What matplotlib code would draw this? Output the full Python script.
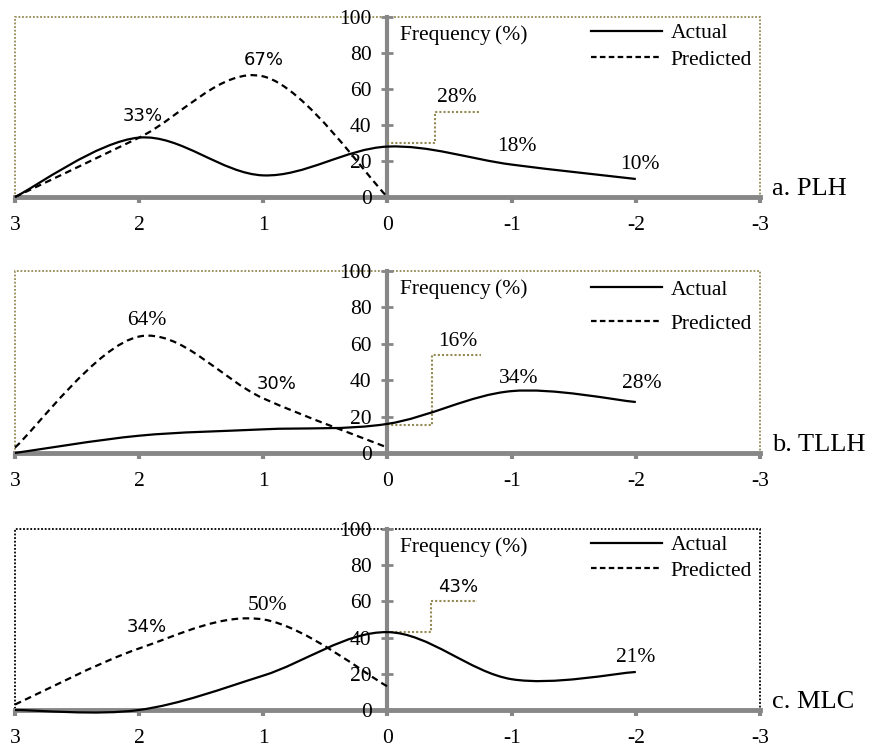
import matplotlib
matplotlib.use("Agg")
import matplotlib.pyplot as plt
from matplotlib.path import Path
from matplotlib.patches import PathPatch, Rectangle
from matplotlib.lines import Line2D
import numpy as np

# ---- data ----
x_actual = [3, 2, 1, 0, -1, -2]
x_pred = [3, 2, 1, 0]
xtick_vals = [3, 2, 1, 0, -1, -2, -3]
xtick_labels = ["3", "2", "1", "0", "-1", "-2", "-3"]
ytick_vals = [0, 20, 40, 60, 80, 100]

plh_actual = [0, 33, 12, 28, 18, 10]
plh_pred = [0, 33, 67, 0]
tllh_actual = [0, 9.5, 13, 16, 34, 28]
tllh_pred = [3, 64, 30, 3]
mlc_actual = [0, 0, 19, 43, 17, 21]
mlc_pred = [3, 34, 50, 13]

panel_names = ["a. PLH", "b. TLLH", "c. MLC"]

# label text, x, y, sans?
plh_labels = [("33%", 1.97, 45, True), ("67%", 1.0, 76, True), ("28%", -0.56, 55, False),
              ("18%", -1.04, 28, False), ("10%", -2.03, 18, False)]
tllh_labels = [("64%", 1.94, 73, False), ("30%", 0.89, 38, True), ("16%", -0.57, 61, False),
               ("34%", -1.06, 41, False), ("28%", -2.05, 38, False)]
mlc_labels = [("34%", 1.94, 46, True), ("50%", 0.97, 57.5, False), ("43%", -0.57, 68, True),
              ("21%", -2.0, 29, False)]

# leader lines
plh_leader = ([0, -0.38, -0.38, -0.755], [30, 30, 47, 47])
tllh_leader = ([0, -0.36, -0.36, -0.755], [15.6, 15.6, 53.7, 53.7])
mlc_leader = ([0, -0.35, -0.35, -0.72], [43.3, 43.3, 60.2, 60.2])

GRAY = "#878787"
OLIVE = "#948A54"
SERIF = "Liberation Serif"
SANS = "DejaVu Sans"
FS = 15.5


def smooth_path(xs, ys):
    pts = np.column_stack([xs, ys]).astype(float)
    n = len(pts)
    verts = [pts[0]]
    codes = [Path.MOVETO]
    for i in range(n - 1):
        p0 = pts[i - 1] if i > 0 else pts[i]
        p1 = pts[i]
        p2 = pts[i + 1]
        p3 = pts[i + 2] if i + 2 < n else pts[i + 1]
        c1 = p1 + (p2 - p0) / 6.0
        c2 = p2 - (p3 - p1) / 6.0
        verts += [c1, c2, p2]
        codes += [Path.CURVE4] * 3
    return Path(verts, codes)


fig = plt.figure(figsize=(8.7, 7.49), dpi=100)

panels = [
    (plh_actual, plh_pred, plh_labels, plh_leader, OLIVE, [0.01724, 0.737, 0.8563, 0.2403], (0.995, 0.99), 0.3),
    (tllh_actual, tllh_pred, tllh_labels, tllh_leader, OLIVE, [0.01724, 0.3952, 0.8563, 0.2430], (0.995, 0.975), 0.65),
    (mlc_actual, mlc_pred, mlc_labels, mlc_leader, "black", [0.01724, 0.0521, 0.8563, 0.2417], (0.995, 0.99), 0.25),
]

for idx, (act, pred, labels, leader, boxc, pos, lg_anchor, lspace) in enumerate(panels):
    ax = fig.add_axes(pos)
    ax.set_xlim(3, -3)
    ax.set_ylim(0, 100)
    for s in ["top", "right"]:
        ax.spines[s].set_visible(False)
    ax.spines["left"].set_position(("data", 0))
    ax.spines["left"].set_color(GRAY)
    ax.spines["left"].set_linewidth(3)
    ax.spines["bottom"].set_color(GRAY)
    ax.spines["bottom"].set_linewidth(3.5)
    ax.spines["left"].set_zorder(1)
    ax.spines["bottom"].set_zorder(1)
    ax.set_xticks(xtick_vals)
    ax.set_xticklabels(xtick_labels, fontfamily=SERIF, fontsize=FS)
    ax.set_yticks(ytick_vals)
    ax.set_yticklabels([str(v) for v in ytick_vals], fontfamily=SERIF, fontsize=FS)
    ax.tick_params(axis="x", direction="out", length=4, width=3, color=GRAY, pad=9.5)
    ax.tick_params(axis="y", direction="inout", length=9, width=2, color=GRAY, pad=7)
    ax.patch.set_visible(False)

    ax.add_patch(Rectangle((0, 0), 1, 1, transform=ax.transAxes, fill=False,
                           ls=(0, (1, 1)), lw=1.3, ec=boxc, clip_on=False, zorder=0))

    ax.add_patch(PathPatch(smooth_path(x_actual, act), fill=False, ec="black", lw=1.6,
                           clip_on=False, zorder=3))
    ax.add_patch(PathPatch(smooth_path(x_pred, pred), fill=False, ec="black", lw=1.6,
                           ls=(0, (3, 2)), clip_on=False, zorder=3))

    ax.plot(leader[0], leader[1], color=OLIVE, ls=(0, (1, 1)), lw=1.5, zorder=2)

    for txt, lx, ly, sans in labels:
        if sans:
            ax.text(lx, ly, txt, fontfamily=SANS, fontsize=13, ha="center", va="center", zorder=4)
        else:
            ax.text(lx, ly, txt, fontfamily=SERIF, fontsize=FS, ha="center", va="center", zorder=4)

    ax.text(-0.1, 90, "Frequency\u2009(%)", fontfamily=SERIF, fontsize=FS, ha="left", va="center")

    handles = [Line2D([], [], color="black", lw=1.6),
               Line2D([], [], color="black", lw=1.6, ls=(0, (2.5, 1.5)))]
    ax.legend(handles, ["Actual", "Predicted"], loc="upper right", bbox_to_anchor=lg_anchor,
              frameon=False, prop={"family": SERIF, "size": FS}, handlelength=3.3,
              handletextpad=0.4, labelspacing=lspace, borderpad=0.2, borderaxespad=0)

    ax.text(1.016, 0.045, panel_names[idx], transform=ax.transAxes, fontfamily=SERIF,
            fontsize=19, ha="left", va="center")

fig.savefig("out.png", dpi=100)
